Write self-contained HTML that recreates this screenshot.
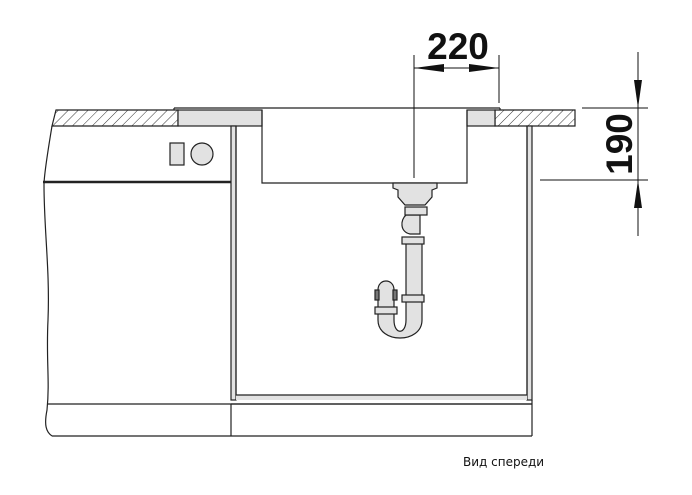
<!DOCTYPE html>
<html><head><meta charset="utf-8"><style>
html,body{margin:0;padding:0;background:#fff;width:692px;height:495px;overflow:hidden}
</style></head><body>
<svg width="692" height="495" viewBox="0 0 692 495" xmlns="http://www.w3.org/2000/svg">
<defs>
<pattern id="h" width="7" height="7" patternUnits="userSpaceOnUse" patternTransform="rotate(45)">
<rect width="7" height="7" fill="#fff"/><line x1="0" y1="0" x2="0" y2="7" stroke="#333" stroke-width="1"/>
</pattern>
</defs>
<g stroke="#222" stroke-width="1.2" fill="none">
<!-- countertop hatched -->
<path d="M56,110 L178,110 L178,126 L52,126 Z" fill="url(#h)"/>
<path d="M495,110 L575,110 L575,126 L495,126 Z" fill="url(#h)"/>
<!-- flange -->
<line x1="174" y1="108" x2="500" y2="108"/>
<line x1="174" y1="108" x2="174" y2="110"/>
<line x1="500" y1="108" x2="500" y2="110"/>
<rect x="178" y="110" width="84" height="16" fill="#e2e2e2"/>
<rect x="467" y="110" width="28" height="16" fill="#e2e2e2"/>
<!-- sink bowl -->
<path d="M262,110 L262,183 L467,183 L467,110"/>
<!-- cabinet walls -->
<rect x="231" y="126" width="5" height="274" fill="#e2e2e2"/>
<rect x="527" y="126" width="5" height="274" fill="#e2e2e2"/>
<rect x="236" y="395" width="291" height="5" fill="#e2e2e2" stroke="none"/>
<path d="M236,126 L236,395 L527,395 L527,126"/>
<line x1="231" y1="404" x2="532" y2="404"/>
<!-- plinth -->
<line x1="48" y1="404" x2="532" y2="404"/>
<line x1="231" y1="404" x2="231" y2="436"/>
<line x1="532" y1="400" x2="532" y2="436"/>
<line x1="52" y1="436" x2="532" y2="436"/>
<!-- dishwasher wavy edge -->
<path d="M52,126 C48,150 44,175 44,185 C44,230 50,270 48,320 C46,360 50,380 47,410 C44,425 46,432 52,436"/>
<line x1="43" y1="182" x2="231" y2="182" stroke-width="2.5"/>
<rect x="170" y="143" width="14" height="22" fill="#e2e2e2"/>
<circle cx="202" cy="154" r="11" fill="#e2e2e2"/>
<!-- drain -->
<path d="M393,183 L393,188 L398,190 L398,197 L405,205 L425,205 L432,197 L432,190 L437,188 L437,183 Z" fill="#e2e2e2"/>
<path d="M406,215 C400,220 400,232 410,234 L420,234 L420,215 Z" fill="#e2e2e2"/>
<rect x="405" y="207" width="22" height="8" fill="#e2e2e2"/>
<path d="M406,240 L406,320 C406,335 394,335 394,320 L394,290 C394,278 378,278 378,290 L378,320 C378,344 422,344 422,320 L422,240 Z" fill="#e2e2e2"/>
<rect x="402" y="237" width="22" height="7" fill="#e2e2e2"/>
<rect x="402" y="295" width="22" height="7" fill="#e2e2e2"/>
<rect x="375" y="307" width="22" height="7" fill="#e2e2e2"/>
<rect x="375" y="290" width="4" height="10" fill="#777"/>
<rect x="393" y="290" width="4" height="10" fill="#777"/>
</g>
<!-- dimensions -->
<g stroke="#111" stroke-width="1" fill="none">
<line x1="414" y1="55" x2="414" y2="178"/>
<line x1="499" y1="55" x2="499" y2="103"/>
<line x1="414" y1="68" x2="499" y2="68"/>
<line x1="582" y1="108" x2="648" y2="108"/>
<line x1="540" y1="180" x2="648" y2="180"/>
<line x1="638" y1="52" x2="638" y2="236"/>
</g>
<g fill="#111">
<path d="M414,68 L444,64 L444,72 Z"/>
<path d="M499,68 L469,64 L469,72 Z"/>
<path d="M638,108 L634,80 L642,80 Z"/>
<path d="M638,180 L634,208 L642,208 Z"/>
</g>
<text x="458" y="59" text-anchor="middle" font-family="Liberation Sans, sans-serif" font-weight="bold" font-size="37" fill="#111">220</text>
<text transform="translate(632,144) rotate(-90)" text-anchor="middle" font-family="Liberation Sans, sans-serif" font-weight="bold" font-size="37" fill="#111">190</text>
<text x="463" y="466" font-family="DejaVu Sans, Liberation Sans, sans-serif" font-size="12" fill="#111">Вид спереди</text>
</svg>
</body></html>
